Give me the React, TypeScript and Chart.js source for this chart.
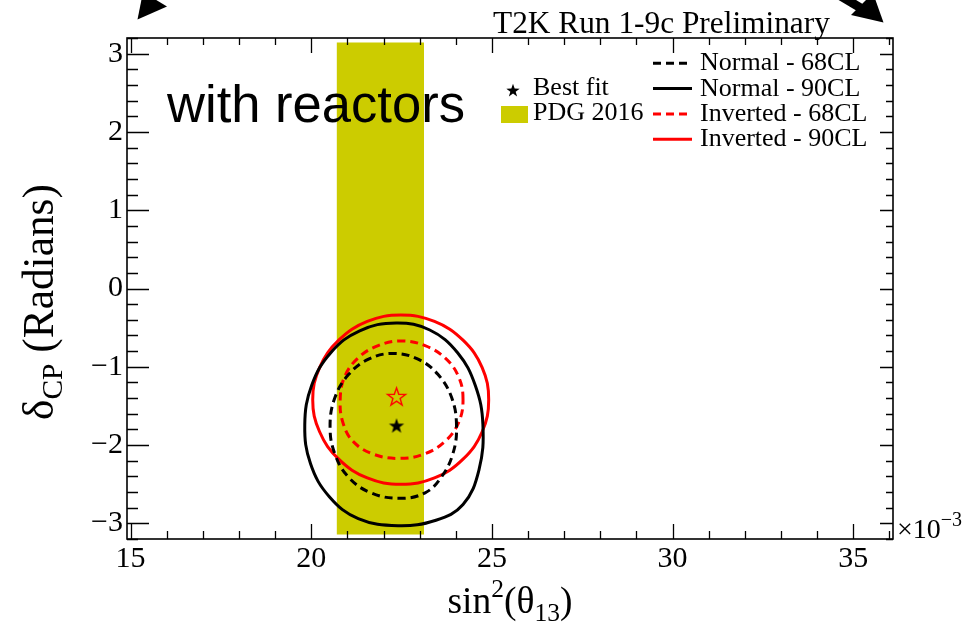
import React, { useEffect, useRef } from "react";
import { Chart, registerables } from "chart.js";

Chart.register(...registerables);

// ---- axis ranges & ticks (x in units of 1e-3) ----
const X_MIN = 14.9;
const X_MAX = 36.1;
const Y_MIN = -3.2;
const Y_MAX = 3.2;
const X_TICKS = [15, 20, 25, 30, 35];
const Y_TICKS = [-3, -2, -1, 0, 1, 2, 3];

// ---- PDG 2016 band ----
const PDG_X = [20.7, 23.12];
const PDG_Y = [-3.1416, 3.1416];

// ---- best fit points ----
const BEST_NORMAL = { x: 22.36, y: -1.75 };
const BEST_INVERTED = { x: 22.36, y: -1.38 };

// ---- contours ----
const N90_X = [24.75, 24.54, 24.05, 23.28, 22.35, 21.34, 20.54, 20.01, 19.82, 19.98, 20.5, 21.3, 22.4, 23.45, 24.2, 24.64];
const N90_Y = [-1.74, -1.24, -0.82, -0.53, -0.44, -0.54, -0.82, -1.24, -1.74, -2.24, -2.66, -2.94, -3.03, -2.96, -2.76, -2.32];

const N68_X = [24.02, 23.89, 23.51, 22.94, 22.27, 21.6, 21.03, 20.65, 20.52, 20.65, 21.03, 21.65, 22.45, 23.15, 23.6, 23.92];
const N68_Y = [-1.76, -1.4, -1.1, -0.9, -0.83, -0.9, -1.1, -1.4, -1.76, -2.11, -2.41, -2.61, -2.68, -2.61, -2.41, -2.11];

const I90_X = [24.91, 24.73, 24.2, 23.41, 22.48, 21.55, 20.76, 20.23, 20.04, 20.23, 20.76, 21.55, 22.48, 23.41, 24.2, 24.73];
const I90_Y = [-1.42, -1.01, -0.66, -0.42, -0.34, -0.42, -0.66, -1.01, -1.42, -1.83, -2.18, -2.42, -2.5, -2.42, -2.18, -1.83];

const I68_X = [24.2, 24.08, 23.71, 23.15, 22.5, 21.85, 21.29, 20.92, 20.8, 20.88, 21.17, 21.74, 22.45, 23.15, 23.71, 24.08];
const I68_Y = [-1.42, -1.13, -0.89, -0.73, -0.67, -0.73, -0.89, -1.13, -1.42, -1.72, -1.96, -2.12, -2.17, -2.11, -1.95, -1.71];

const LEGEND_LINES = [
  { label: "Normal - 68CL", color: "#000000", dash: [8, 5] },
  { label: "Normal - 90CL", color: "#000000", dash: [] },
  { label: "Inverted - 68CL", color: "#ff0000", dash: [8, 5] },
  { label: "Inverted - 90CL", color: "#ff0000", dash: [] },
];

const SERIF = '"Liberation Serif", "Times New Roman", serif';
const SANS = '"Liberation Sans", Arial, sans-serif';
const BAND_COLOR = "#cccc00";

function toPoints(xs: number[], ys: number[]) {
  return xs.map((x, i) => ({ x, y: ys[i] }));
}

function makeStar(r: number, fill: string | null, stroke: string | null, lw: number) {
  const s = Math.ceil(2 * r + lw + 2);
  const c = document.createElement("canvas");
  c.width = s;
  c.height = s;
  const g = c.getContext("2d")!;
  g.beginPath();
  for (let k = 0; k < 10; k++) {
    const rad = k % 2 === 0 ? r : r * 0.4;
    const ang = -Math.PI / 2 + (k * Math.PI) / 5;
    const px = s / 2 + rad * Math.cos(ang);
    const py = s / 2 + 0.8 + rad * Math.sin(ang);
    if (k === 0) g.moveTo(px, py);
    else g.lineTo(px, py);
  }
  g.closePath();
  if (fill) {
    g.fillStyle = fill;
    g.fill();
  }
  if (stroke) {
    g.strokeStyle = stroke;
    g.lineWidth = lw;
    g.stroke();
  }
  return c;
}

function fitFont(ctx: CanvasRenderingContext2D, text: string, family: string, width: number) {
  ctx.font = `100px ${family}`;
  const w = ctx.measureText(text).width;
  return (100 * width) / w;
}

type Part = [string, number, number]; // text, relative size, baseline offset (em)

function drawRich(ctx: CanvasRenderingContext2D, parts: Part[], family: string, targetWidth: number, cx: number, baseY: number) {
  let unit = 0;
  for (const [t, rs] of parts) {
    ctx.font = `${100 * rs}px ${family}`;
    unit += ctx.measureText(t).width / 100;
  }
  const size = targetWidth / unit;
  let x = cx - targetWidth / 2;
  for (const [t, rs, off] of parts) {
    ctx.font = `${size * rs}px ${family}`;
    ctx.fillText(t, x, baseY + off * size);
    x += ctx.measureText(t).width;
  }
}

// closes contour lines into smooth loops (same mechanism as radar lines)
const loopPlugin = {
  id: "closedLoop",
  afterDatasetUpdate(chart: any, args: any) {
    const ds = chart.data.datasets[args.index];
    if (!ds || !ds.closedLoop) return;
    const line = args.meta.dataset;
    if (!line) return;
    line._loop = true;
    line._fullLoop = true;
    line._pointsUpdated = false;
    delete line._segments;
    delete line._path;
  },
};

export default function App() {
  const ref = useRef<HTMLCanvasElement | null>(null);

  useEffect(() => {
    const canvas = ref.current;
    if (!canvas) return;
    const starBlack = makeStar(8, "#000000", null, 0);
    const starLegend = makeStar(7, "#000000", null, 0);
    const starRed = makeStar(9.5, null, "#ff0000", 1.4);

    const decor = {
      id: "decor",
      afterDraw(chart: any) {
        const { ctx, chartArea: a } = chart;
        const xs = chart.scales.x;
        const ys = chart.scales.y;
        ctx.save();
        // frame
        ctx.strokeStyle = "#000";
        ctx.lineWidth = 1.6;
        ctx.strokeRect(a.left, a.top, a.right - a.left, a.bottom - a.top);
        // x ticks
        ctx.lineWidth = 1.3;
        ctx.beginPath();
        for (let v = Math.ceil(X_MIN); v <= X_MAX; v++) {
          const px = Math.round(xs.getPixelForValue(v)) + 0.5;
          const major = v % 5 === 0;
          const lb = major ? 15 : 8;
          const lt = major ? 15 : 7;
          ctx.moveTo(px, a.bottom);
          ctx.lineTo(px, a.bottom - lb);
          ctx.moveTo(px, a.top);
          ctx.lineTo(px, a.top + lt);
        }
        // y ticks
        for (let i = Math.ceil(Y_MIN * 5); i <= Math.floor(Y_MAX * 5); i++) {
          const v = i / 5;
          const py = Math.round(ys.getPixelForValue(v)) + 0.5;
          const major = i % 5 === 0;
          const ll = major ? 22 : 11;
          const lr = major ? 13 : 7;
          ctx.moveTo(a.left, py);
          ctx.lineTo(a.left + ll, py);
          ctx.moveTo(a.right, py);
          ctx.lineTo(a.right - lr, py);
        }
        ctx.stroke();

        ctx.fillStyle = "#000";
        ctx.textBaseline = "alphabetic";
        ctx.textAlign = "left";

        // x title: sin^2(theta_13)
        drawRich(
          ctx,
          [
            ["sin", 1, 0],
            ["2", 0.68, -0.42],
            ["(θ", 1, 0],
            ["13", 0.68, 0.2],
            [")", 1, 0],
          ],
          SERIF,
          125,
          (a.left + a.right) / 2,
          613
        );

        // y title: delta_CP (Radians)
        ctx.save();
        ctx.translate(53, 302);
        ctx.rotate(-Math.PI / 2);
        drawRich(
          ctx,
          [
            ["δ", 1, 0],
            ["CP", 0.68, 0.2],
            [" (Radians)", 1, 0],
          ],
          SERIF,
          236,
          0,
          0
        );
        ctx.restore();

        // x10^-3
        ctx.font = `28px ${SERIF}`;
        ctx.fillText("×10", a.right + 4, 538);
        const w10 = ctx.measureText("×10").width;
        ctx.font = `20px ${SERIF}`;
        ctx.fillText("−3", a.right + 4 + w10, 526);

        // header
        {
          const t = "T2K Run 1-9c Preliminary";
          const fs = fitFont(ctx, t, SERIF, 337);
          ctx.font = `${fs}px ${SERIF}`;
          ctx.fillText(t, 493, 33);
        }

        // with reactors
        {
          const t = "with reactors";
          const fs = fitFont(ctx, t, SANS, 298);
          ctx.font = `${fs}px ${SANS}`;
          ctx.fillText(t, 167, 122);
        }

        // legend right
        ctx.font = `26px ${SERIF}`;
        LEGEND_LINES.forEach((e, i) => {
          const yy = 63.3 + i * 25.3;
          ctx.save();
          ctx.strokeStyle = e.color;
          ctx.lineWidth = 3;
          ctx.setLineDash(e.dash);
          ctx.beginPath();
          ctx.moveTo(653, yy);
          ctx.lineTo(692, yy);
          ctx.stroke();
          ctx.restore();
          ctx.fillStyle = "#000";
          ctx.fillText(e.label, 700, yy + 7);
        });

        // legend left
        ctx.drawImage(starLegend, 513 - starLegend.width / 2, 90 - starLegend.height / 2);
        ctx.fillText("Best fit", 533, 95);
        ctx.fillStyle = BAND_COLOR;
        ctx.fillRect(501, 106, 27, 17);
        ctx.fillStyle = "#000";
        ctx.fillText("PDG 2016", 533, 120);

        // arrows
        ctx.fillStyle = "#000";
        ctx.beginPath();
        ctx.moveTo(137.5, 19.5);
        ctx.lineTo(167, 6.5);
        ctx.lineTo(143, -8);
        ctx.closePath();
        ctx.fill();

        ctx.beginPath();
        ctx.moveTo(883.5, 22.5);
        ctx.lineTo(851, 15);
        ctx.lineTo(873, -7);
        ctx.closePath();
        ctx.fill();
        ctx.strokeStyle = "#000";
        ctx.lineWidth = 9;
        ctx.beginPath();
        ctx.moveTo(834, -8);
        ctx.lineTo(864, 10);
        ctx.stroke();

        ctx.restore();
      },
    };

    const lineDs = (label: string, xs: number[], ys: number[], color: string, dash: number[]) => ({
      type: "line",
      label,
      data: toPoints(xs, ys),
      closedLoop: true,
      showLine: true,
      borderColor: color,
      borderWidth: 3,
      borderDash: dash,
      pointRadius: 0,
      tension: 0.4,
      fill: false,
      order: 2,
    });

    const chart = new Chart(canvas, {
      type: "scatter",
      data: {
        datasets: [
          {
            label: "Best fit inverted",
            data: [BEST_INVERTED],
            pointStyle: starRed as any,
            pointRadius: 10,
            order: 0,
          } as any,
          {
            label: "Best fit normal",
            data: [BEST_NORMAL],
            pointStyle: starBlack as any,
            pointRadius: 8,
            order: 0,
          } as any,
          lineDs("Normal - 68CL", N68_X, N68_Y, "#000000", [8, 5]) as any,
          lineDs("Normal - 90CL", N90_X, N90_Y, "#000000", []) as any,
          lineDs("Inverted - 68CL", I68_X, I68_Y, "#ff0000", [8, 5]) as any,
          lineDs("Inverted - 90CL", I90_X, I90_Y, "#ff0000", []) as any,
          {
            type: "line",
            label: "PDG 2016",
            data: [
              { x: PDG_X[0], y: PDG_Y[1] },
              { x: PDG_X[1], y: PDG_Y[1] },
            ],
            borderWidth: 0,
            borderColor: "rgba(0,0,0,0)",
            backgroundColor: BAND_COLOR,
            pointRadius: 0,
            fill: { target: { value: PDG_Y[0] } },
            order: 10,
          } as any,
        ],
      },
      options: {
        responsive: false,
        animation: false,
        devicePixelRatio: 1,
        layout: { padding: { top: 38, right: 83, left: 0, bottom: 0 } },
        plugins: { legend: { display: false }, tooltip: { enabled: false } },
        scales: {
          x: {
            type: "linear",
            min: X_MIN,
            max: X_MAX,
            grid: { display: false, drawTicks: false },
            border: { display: false },
            afterBuildTicks: (s: any) => {
              s.ticks = X_TICKS.map((v) => ({ value: v }));
            },
            afterFit: (s: any) => {
              s.height = 88;
            },
            ticks: {
              color: "#000",
              padding: 2,
              maxRotation: 0,
              autoSkip: false,
              font: { family: SERIF, size: 30 },
              callback: (v: any) => String(v),
            },
          },
          y: {
            type: "linear",
            min: Y_MIN,
            max: Y_MAX,
            grid: { display: false, drawTicks: false },
            border: { display: false },
            afterBuildTicks: (s: any) => {
              s.ticks = Y_TICKS.map((v) => ({ value: v }));
            },
            afterFit: (s: any) => {
              s.width = 127;
            },
            ticks: {
              color: "#000",
              padding: 4,
              autoSkip: false,
              font: { family: SERIF, size: 30 },
              callback: (v: any) => String(v).replace("-", "−"),
            },
          },
        },
      },
      plugins: [loopPlugin, decor],
    });
    return () => chart.destroy();
  }, []);

  return (
    <div style={{ position: "absolute", left: 0, top: 0, width: 976, height: 627, background: "#fff" }}>
      <canvas ref={ref} width={976} height={627} style={{ display: "block", width: 976, height: 627 }} />
    </div>
  );
}
